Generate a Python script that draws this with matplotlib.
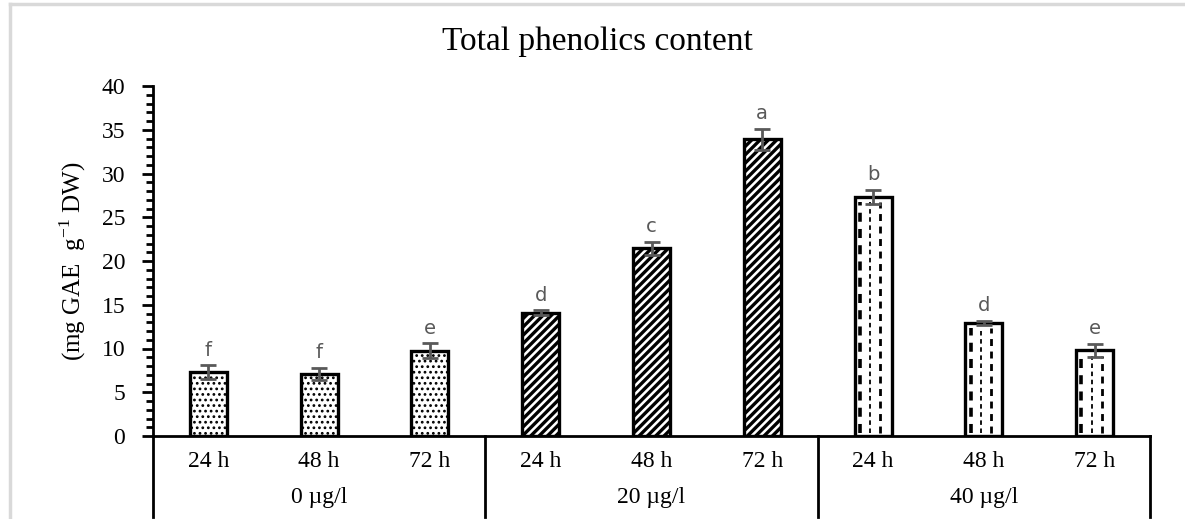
import matplotlib
matplotlib.use("Agg")
import matplotlib.pyplot as plt
from matplotlib.lines import Line2D
import numpy as np

# Data
doses = ["0 \u00b5g/l", "20 \u00b5g/l", "40 \u00b5g/l"]
times = ["24 h", "48 h", "72 h"]
tpc_mean = [7.3, 7.1, 9.75, 14.1, 21.45, 33.9, 27.35, 12.9, 9.8]
tpc_err = [0.8, 0.7, 0.85, 0.25, 0.75, 1.2, 0.8, 0.25, 0.75]
letters = ["f", "f", "e", "d", "c", "a", "b", "d", "e"]

serif = ["Liberation Serif", "DejaVu Serif"]
plt.rcParams["hatch.color"] = "black"

W, H = 1185, 519
fig = plt.figure(figsize=(W / 100, H / 100), dpi=100)
ax = fig.add_axes([153 / W, 1 - 436 / H, (1150 - 153) / W, (436 - 86) / H])

n = len(tpc_mean)
x = np.arange(n)
bar_w = 1 / 3
hatches = ["...", "////", ""]
hatch_lw = [1.2, 2.4, 1.0]

bars = []
for g in range(len(doses)):
    plt.rcParams["hatch.linewidth"] = hatch_lw[g]
    idx = x[g * 3:(g + 1) * 3]
    b = ax.bar(idx, tpc_mean[g * 3:(g + 1) * 3], width=bar_w, color="white",
               edgecolor="black", linewidth=2.4, hatch=hatches[g], zorder=2)
    bars.append(b)

# dashed vertical fill for the highest dose
for rect in bars[2]:
    x0, w, h = rect.get_x(), rect.get_width(), rect.get_height()
    for frac, lw in [(0.14, 2.6), (0.42, 1.3), (0.70, 2.0)]:
        ax.plot([x0 + frac * w, x0 + frac * w], [0.3, h - 0.6], color="black",
                lw=lw, linestyle=(0, (2.5, 2)), zorder=2.5, solid_capstyle="butt")

ax.errorbar(x, tpc_mean, yerr=tpc_err, fmt="none", ecolor="#595959",
            elinewidth=2, capsize=6, capthick=2, zorder=3)

for xi, m, e, lab in zip(x, tpc_mean, tpc_err, letters):
    ax.annotate(lab, (xi, m + e), xytext=(0, 4), textcoords="offset points",
                ha="center", va="bottom", fontsize=14, color="#595959",
                family="DejaVu Sans")

ax.set_xlim(-0.5, n - 0.5)
ax.set_ylim(0, 40)
ax.set_yticks(np.arange(0, 41, 5))
ax.set_yticks(np.arange(0, 41, 1), minor=True)
ax.tick_params(axis="y", which="major", length=8, width=2, direction="out",
               labelsize=17, pad=12)
ax.tick_params(axis="y", which="minor", length=5, width=2, direction="out")
for t in ax.get_yticklabels():
    t.set_family(serif)

ax.set_xticks(x)
ax.set_xticklabels(times * len(doses), family=serif, fontsize=17)
ax.tick_params(axis="x", length=0, pad=11)

for s in ["top", "right"]:
    ax.spines[s].set_visible(False)
ax.spines["left"].set_linewidth(2)
ax.spines["bottom"].set_linewidth(2)

# group separators on the category axis
trans = ax.get_xaxis_transform()
for b in np.arange(-0.5, n, 3):
    ax.add_line(Line2D([b, b], [0, -0.232], transform=trans, color="black",
                       lw=2, clip_on=False))
for g, d in enumerate(doses):
    ax.text(g * 3 + 1, -0.175, d, transform=trans, ha="center", va="center",
            family=serif, fontsize=17)

ax.set_ylabel("(mg GAE  g$^{\\mathregular{-1}}$ DW)", family=serif, fontsize=18,
              labelpad=10)

fig.text(597 / W, 1 - 42 / H, "Total phenolics content", ha="center",
         va="center", family=serif, fontsize=24)

# chart frame
fig.add_artist(Line2D([10 / W, 10 / W], [0, 1 - 4 / H], color="#d9d9d9", lw=2.5))
fig.add_artist(Line2D([10 / W, 1], [1 - 4 / H, 1 - 4 / H], color="#d9d9d9", lw=2.5))

fig.savefig("out.png", dpi=100)
